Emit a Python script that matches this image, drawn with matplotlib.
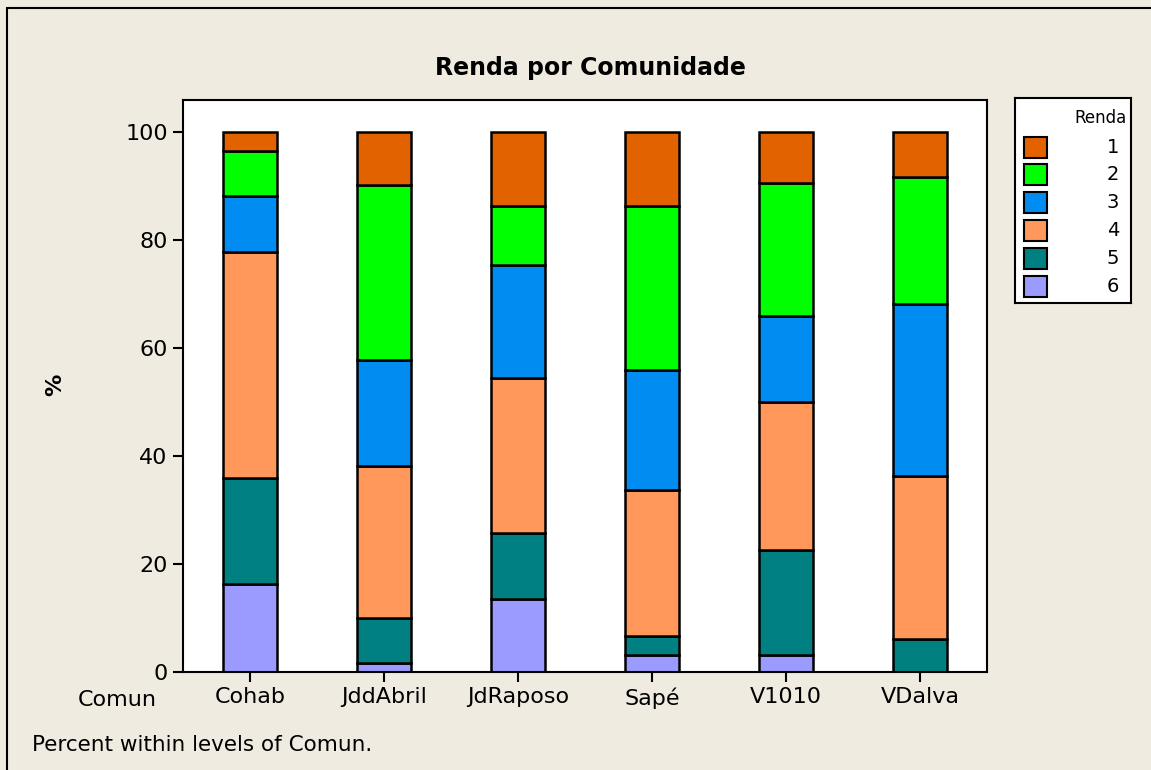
import matplotlib
matplotlib.use("Agg")
import matplotlib.pyplot as plt
from matplotlib.patches import Rectangle
import numpy as np

# data (percent within each community)
comunidades = ["Cohab", "JddAbril", "JdRaposo", "Sapé", "V1010", "VDalva"]
renda_niveis = ["1", "2", "3", "4", "5", "6"]
renda_6 = [16.2, 1.7, 13.6, 3.2, 3.2, 0.0]
renda_5 = [19.7, 8.3, 12.2, 3.4, 19.4, 6.2]
renda_4 = [41.9, 28.2, 28.7, 27.1, 27.4, 30.0]
renda_3 = [10.4, 19.6, 20.8, 22.2, 15.9, 32.0]
renda_2 = [8.2, 32.3, 11.0, 30.4, 24.6, 23.4]
renda_1 = [3.6, 9.9, 13.7, 13.7, 9.5, 8.4]
y_ticks = [0, 20, 40, 60, 80, 100]

cores = {"1": "#E36200", "2": "#00FF00", "3": "#008CF0",
         "4": "#FF985A", "5": "#008080", "6": "#9B9BFF"}
bg = "#EFEBE0"

W, H = 1151, 770
fig = plt.figure(figsize=(W / 100, H / 100), dpi=100)
fig.patch.set_facecolor(bg)

# outer frame
fig.patches.append(Rectangle((7 / W, -0.05), 1.2, 1 - 8 / H + 0.05,
                             transform=fig.transFigure, fill=False,
                             edgecolor="black", linewidth=1.5))

ax = fig.add_axes([183 / W, 1 - 672 / H, (987 - 183) / W, (672 - 100) / H])
ax.set_facecolor("white")

x = np.arange(len(comunidades))
series = [("6", renda_6), ("5", renda_5), ("4", renda_4),
          ("3", renda_3), ("2", renda_2), ("1", renda_1)]
base = np.zeros(len(comunidades))
for nivel, vals in series:
    vals = np.array(vals)
    ax.bar(x, vals, bottom=base, width=0.41, color=cores[nivel],
           edgecolor="black", linewidth=1.8)
    base = base + vals

ax.set_xlim(-0.5, 5.5)
ax.set_ylim(0, 105.9)
ax.set_yticks(y_ticks)
ax.set_xticks(x)
ax.set_xticklabels(comunidades)
ax.tick_params(axis="both", direction="out", length=7, width=1.5,
               labelsize=16, pad=4)
for s in ax.spines.values():
    s.set_linewidth(1.5)

fig.text(590 / W, 1 - 68 / H, "Renda por Comunidade", ha="center",
         va="center", fontsize=17, fontweight="bold")
fig.text(55 / W, 1 - 385 / H, "%", ha="center", va="center", rotation=90,
         fontsize=16, fontweight="bold")
fig.text(117 / W, 1 - 700 / H, "Comun", ha="center", va="center", fontsize=16)
fig.text(32 / W, 1 - 745 / H, "Percent within levels of Comun.", ha="left",
         va="center", fontsize=15.5)

# legend drawn in its own pixel-scaled axes
lx0, lx1, ly0, ly1 = 1015, 1131, 98, 303
lax = fig.add_axes([lx0 / W, 1 - ly1 / H, (lx1 - lx0) / W, (ly1 - ly0) / H])
lax.set_xlim(0, lx1 - lx0)
lax.set_ylim(ly1 - ly0, 0)
lax.set_xticks([])
lax.set_yticks([])
lax.set_facecolor("white")
for s in lax.spines.values():
    s.set_linewidth(1.5)
lax.text(112, 20, "Renda", ha="right", va="center", fontsize=12)
for i, nivel in enumerate(renda_niveis):
    yc = 49 + i * 27.8
    lax.add_patch(Rectangle((9, yc - 10.5), 23, 21, facecolor=cores[nivel],
                            edgecolor="black", linewidth=1.5))
    lax.text(104, yc, nivel, ha="right", va="center", fontsize=14)

fig.savefig("out.png", dpi=100, facecolor=bg)
